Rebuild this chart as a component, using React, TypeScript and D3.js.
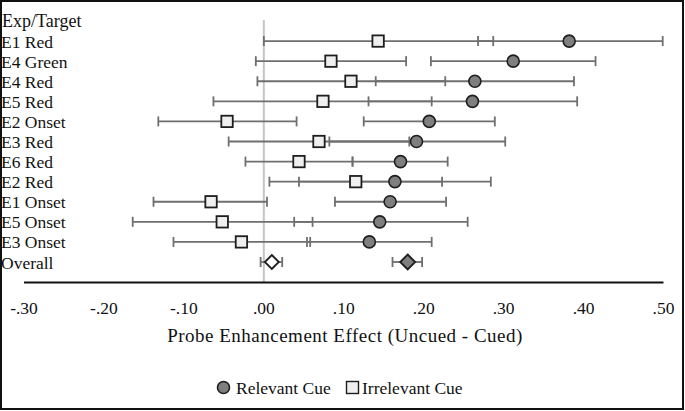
import React from "react";
import * as d3 from "d3";

const categories = ["E1 Red", "E4 Green", "E4 Red", "E5 Red", "E2 Onset", "E3 Red", "E6 Red", "E2 Red", "E1 Onset", "E5 Onset", "E3 Onset", "Overall"];

// Relevant cue: mean, lower, upper
const relevantMean = [0.382, 0.312, 0.264, 0.261, 0.207, 0.191, 0.171, 0.164, 0.158, 0.145, 0.132, 0.180];
const relevantLow = [0.268, 0.209, 0.140, 0.131, 0.125, 0.082, 0.111, 0.044, 0.089, 0.038, 0.054, 0.161];
const relevantHigh = [0.499, 0.415, 0.388, 0.392, 0.289, 0.302, 0.230, 0.284, 0.228, 0.255, 0.210, 0.198];

// Irrelevant cue: mean, lower, upper
const irrelevantMean = [0.143, 0.084, 0.109, 0.074, -0.046, 0.069, 0.044, 0.115, -0.066, -0.052, -0.028, 0.010];
const irrelevantLow = [0.000, -0.010, -0.008, -0.063, -0.132, -0.044, -0.023, 0.007, -0.138, -0.164, -0.113, -0.004];
const irrelevantHigh = [0.287, 0.178, 0.227, 0.210, 0.041, 0.182, 0.111, 0.223, 0.004, 0.061, 0.058, 0.023];

const xTicks = [-0.3, -0.2, -0.1, 0, 0.1, 0.2, 0.3, 0.4, 0.5];
const headerLabel = "Exp/Target";
const xTitle = "Probe Enhancement Effect (Uncued - Cued)";
const legendLabels = ["Relevant Cue", "Irrelevant Cue"];

const W = 685;
const H = 411;
const FONT = "'Liberation Serif', 'Times New Roman', serif";

export default function App() {
  const x = d3.scaleLinear().domain([-0.3, 0.5]).range([24, 663.5]);
  const y = d3
    .scalePoint<string>()
    .domain(["__header", ...categories])
    .range([21, 262]);

  const fmt = (v: number) => {
    const s = Math.abs(v).toFixed(2).replace(/^0/, "");
    return v < 0 ? "-" + s : s;
  };

  const lineColor = "#6f6f6f";
  const markStroke = "#1e1e1e";
  const relFill = "#7f7f7f";
  const irrFill = "#efefef";
  const capH = 5;

  const bar = (lo: number, hi: number, yy: number, key: string) => (
    <g key={key}>
      <line x1={x(lo)} x2={x(hi)} y1={yy} y2={yy} stroke={lineColor} strokeWidth={1.8} />
      <line x1={x(lo)} x2={x(lo)} y1={yy - capH} y2={yy + capH} stroke={lineColor} strokeWidth={1.8} />
      <line x1={x(hi)} x2={x(hi)} y1={yy - capH} y2={yy + capH} stroke={lineColor} strokeWidth={1.8} />
    </g>
  );

  const diamond = (cx: number, cy: number, r: number) =>
    `M${cx},${cy - r}L${cx + r},${cy}L${cx},${cy + r}L${cx - r},${cy}Z`;

  return (
    <svg
      width={W}
      height={H}
      style={{ position: "absolute", left: 0, top: 0, background: "#fff" }}
      fontFamily={FONT}
    >
      <rect x={1} y={1} width={W - 3} height={H - 3} fill="#fff" stroke="#111" strokeWidth={2} />

      {/* zero reference line */}
      <line x1={x(0)} x2={x(0)} y1={20} y2={282} stroke="#c4c4c4" strokeWidth={2} />

      {/* header */}
      <text x={2} y={y("__header")} dominantBaseline="central" fontSize={18} fill="#111">
        {headerLabel}
      </text>

      {categories.map((c) => (
        <text key={"l" + c} x={1} y={(y(c) as number) + 0.5} dominantBaseline="central" fontSize={17.5} fill="#111">
          {c}
        </text>
      ))}

      {/* error bars */}
      {categories.map((c, i) => bar(irrelevantLow[i], irrelevantHigh[i], y(c) as number, "ib" + i))}
      {categories.map((c, i) => bar(relevantLow[i], relevantHigh[i], y(c) as number, "rb" + i))}

      {/* markers */}
      {categories.map((c, i) => {
        const yy = y(c) as number;
        if (c === "Overall") {
          return (
            <g key={"m" + i}>
              <path d={diamond(x(irrelevantMean[i]), yy, 7)} fill="#fff" stroke={markStroke} strokeWidth={1.8} />
              <path d={diamond(x(relevantMean[i]), yy, 7.5)} fill={relFill} stroke={markStroke} strokeWidth={1.8} />
            </g>
          );
        }
        return (
          <g key={"m" + i}>
            <rect x={x(irrelevantMean[i]) - 5.7} y={yy - 5.7} width={11.4} height={11.4} fill={irrFill} stroke={markStroke} strokeWidth={1.8} />
            <circle cx={x(relevantMean[i])} cy={yy} r={6} fill={relFill} stroke={markStroke} strokeWidth={1.6} />
          </g>
        );
      })}

      {/* x axis */}
      <line x1={x(-0.3)} x2={x(0.5)} y1={282.5} y2={282.5} stroke="#111" strokeWidth={2} />
      {xTicks.map((t) => (
        <text key={"t" + t} x={x(t)} y={308} textAnchor="middle" dominantBaseline="central" fontSize={17.5} fill="#111">
          {fmt(t)}
        </text>
      ))}
      <text x={345} y={335} textAnchor="middle" dominantBaseline="central" fontSize={19} letterSpacing={0.5} fill="#111">
        {xTitle}
      </text>

      {/* legend */}
      <circle cx={223.5} cy={387.5} r={6} fill={relFill} stroke={markStroke} strokeWidth={1.6} />
      <text x={236} y={387.5} dominantBaseline="central" fontSize={17.5} fill="#111">
        {legendLabels[0]}
      </text>
      <rect x={346.5} y={381.5} width={12} height={12} fill={irrFill} stroke={markStroke} strokeWidth={1.4} />
      <text x={362} y={387.5} dominantBaseline="central" fontSize={17.5} fill="#111">
        {legendLabels[1]}
      </text>
    </svg>
  );
}
